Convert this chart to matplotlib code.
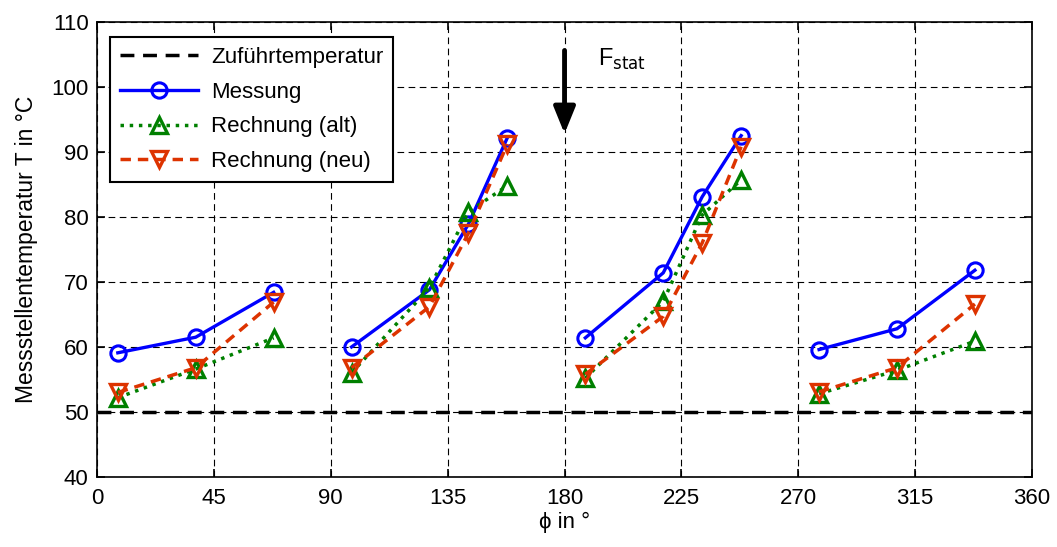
import matplotlib.pyplot as plt
import numpy as np

plt.rcParams['font.family'] = ['Liberation Sans', 'DejaVu Sans']

# winkel der messstellen, gruppen durch nan getrennt
phi = [8, 38, 68, np.nan, 98, 128, 143, 158, np.nan,
       188, 218, 233, 248, np.nan, 278, 308, 338]
messung = [59.1, 61.5, 68.4, np.nan, 60.0, 68.8, 78.9, 92.2, np.nan,
           61.4, 71.4, 83.1, 92.5, np.nan, 59.6, 62.8, 71.8]
rechnung_alt = [52.2, 56.6, 61.4, np.nan, 56.0, 69.1, 80.8, 84.8, np.nan,
                55.2, 67.0, 80.3, 85.7, np.nan, 52.8, 56.4, 60.9]
rechnung_neu = [53.0, 56.8, 66.9, np.nan, 56.8, 66.2, 77.5, 91.2, np.nan,
                55.8, 64.7, 76.0, 90.8, np.nan, 53.1, 56.8, 66.6]
t_zufuhr = 50

fig = plt.figure(figsize=(10.57, 5.47), dpi=100)
ax = fig.add_axes([0.0918, 0.128, 0.8846, 0.832])

ax.axhline(t_zufuhr, color='k', ls='--', lw=2.5, dashes=(4, 2.5), label='Zuführtemperatur')
ax.plot(phi, messung, color='#0000ff', lw=2.4, marker='o', ms=11, mfc='none',
        mew=2.2, label='Messung')
ax.plot(phi, rechnung_alt, color='#008000', lw=2.5, ls=':', marker='^', ms=12,
        mfc='none', mew=2.4, label='Rechnung (alt)')
ax.plot(phi, rechnung_neu, color='#dd3300', lw=2.5, ls='--', dashes=(3, 2),
        marker='v', ms=12, mfc='none', mew=2.4, label='Rechnung (neu)')

# kraftpfeil
ax.annotate('', xy=(180, 92.8), xytext=(180, 105.6),
            arrowprops=dict(arrowstyle='-|>,head_width=0.65,head_length=1.6',
                            color='k', lw=3.5, shrinkA=0, shrinkB=0))
ax.text(193, 103.3, r'F$_{\mathrm{stat}}$', fontsize=17)

ax.set_xlim(0, 360)
ax.set_ylim(40, 110)
ax.set_xticks(np.arange(0, 361, 45))
ax.set_yticks(np.arange(40, 111, 10))
ax.tick_params(direction='in', top=True, right=True, labelsize=16, length=6,
               width=1.2)
ax.tick_params(axis='y', pad=6)
ax.tick_params(axis='x', pad=8)
for s in ax.spines.values():
    s.set_linewidth(1.2)
ax.grid(True, color='k', ls='--', lw=0.8, dashes=(6, 4))
ax.set_xlabel('ϕ in °', fontsize=16, labelpad=2)
ax.set_ylabel('Messstellentemperatur T in °C', fontsize=16.5, labelpad=10)

leg = ax.legend(loc='upper left', fontsize=16, handlelength=3.5, fancybox=False,
                framealpha=1, edgecolor='k', borderpad=0.45, labelspacing=0.62,
                handletextpad=0.6, borderaxespad=0,
                bbox_to_anchor=(0.014, 0.967))
leg.get_frame().set_linewidth(1.5)

fig.savefig('out.png', dpi=100)
